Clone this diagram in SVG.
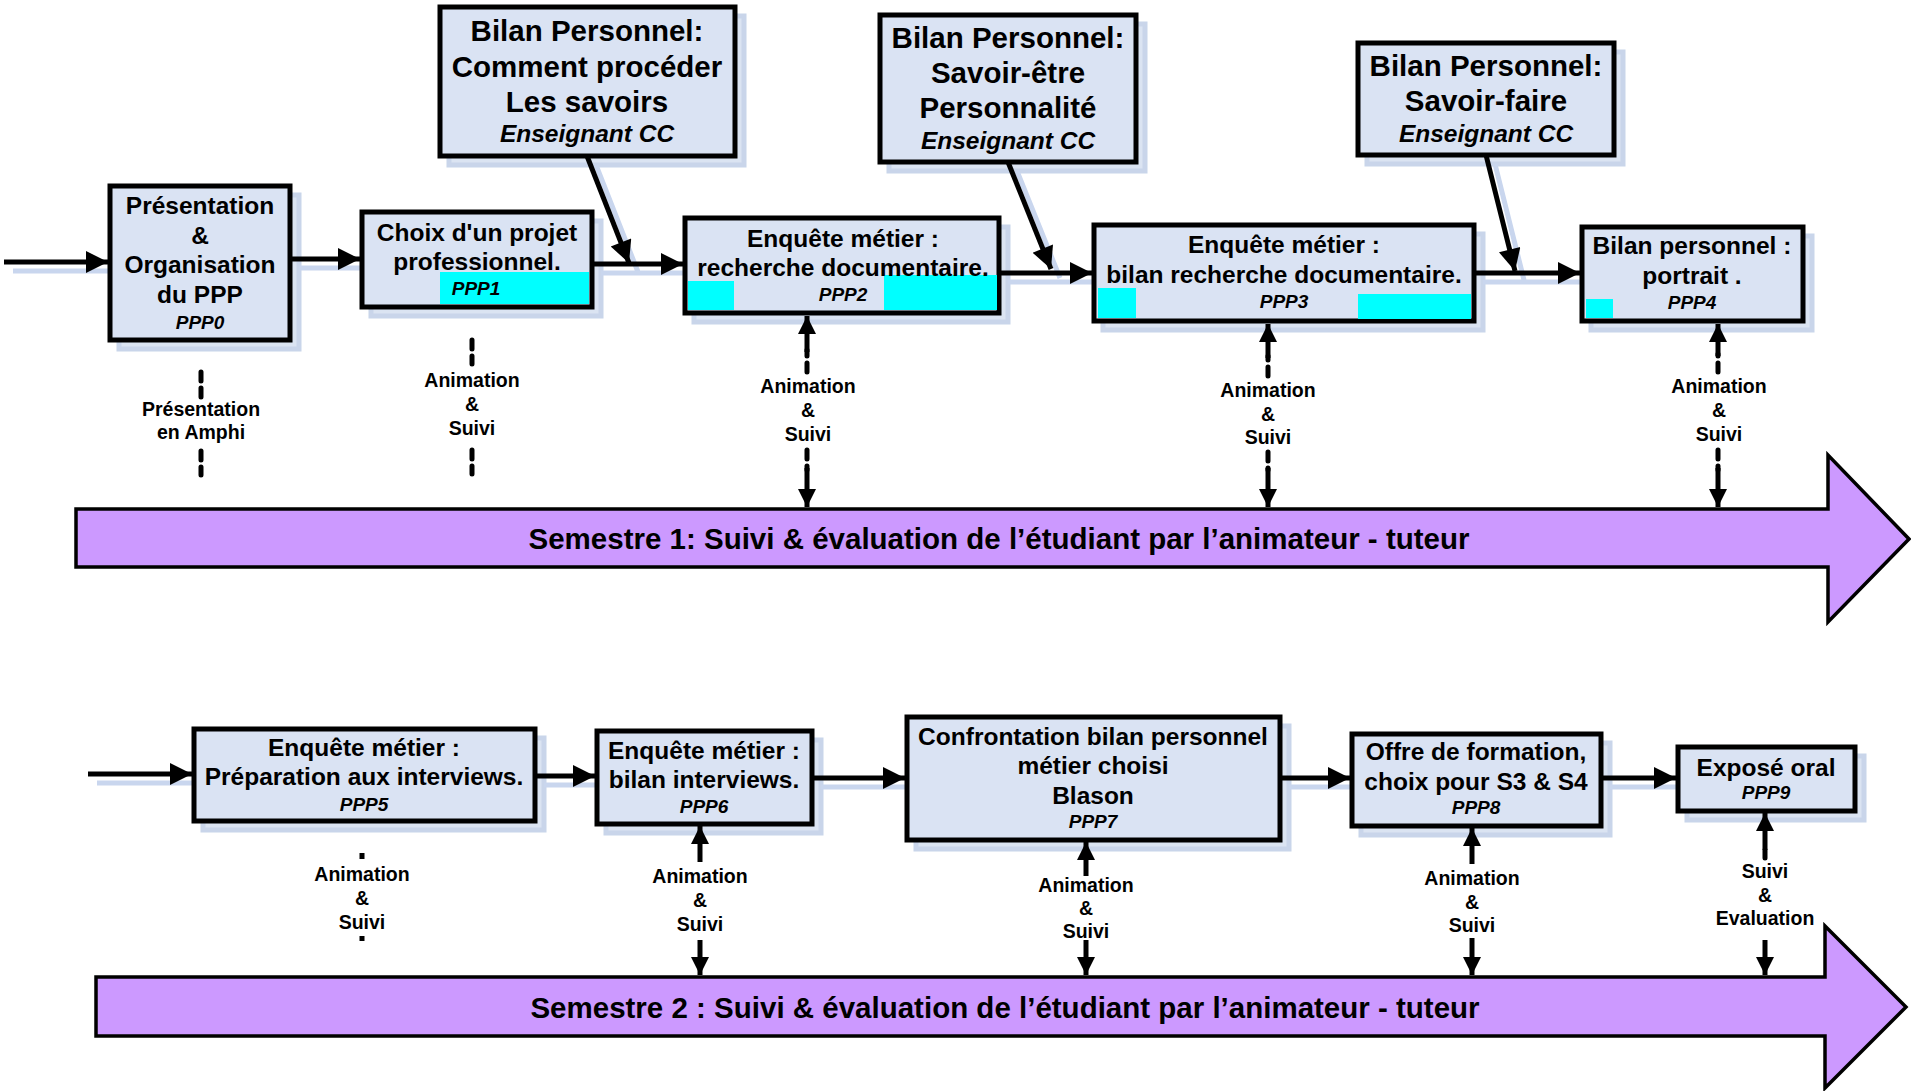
<svg xmlns="http://www.w3.org/2000/svg" width="1911" height="1091" viewBox="0 0 1911 1091">
<defs>
<style>
.box{fill:#dae3f3;stroke:#000;stroke-width:5}
.sh{fill:#d3def0;stroke:#bccbe6;stroke-width:5;opacity:.8}
.shl{stroke:#c9d6ee;stroke-width:5;fill:none}
.t{font-family:"Liberation Sans",Arial,sans-serif;font-weight:bold;fill:#000;text-anchor:middle;dominant-baseline:central}
.b24{font-size:24.5px}
.b29{font-size:29.5px}
.i17{font-size:19px;font-style:italic}
.i23{font-size:24.5px;font-style:italic}
.lab{font-size:19.5px}
.sem{font-size:29.5px}
.c{stroke:#000;stroke-width:5;fill:none}
.d{stroke:#000;stroke-width:5;fill:none;stroke-dasharray:9 7;stroke-linecap:round}
.cy{fill:#00ffff}
.purple{fill:#cc99ff;stroke:#000;stroke-width:3.5}
</style>
<marker id="ah" viewBox="0 0 10 10" refX="10" refY="5" markerUnits="userSpaceOnUse" markerWidth="22" markerHeight="24" orient="auto"><path d="M0,0 L10,5 L0,10 Z" fill="#000"/></marker>
<marker id="av" viewBox="0 0 10 10" refX="10" refY="5" markerUnits="userSpaceOnUse" markerWidth="34" markerHeight="18" orient="auto"><path d="M0,0 L10,5 L0,10 Z" fill="#000"/></marker>
<marker id="ad" viewBox="0 0 10 10" refX="10" refY="5" markerUnits="userSpaceOnUse" markerWidth="26" markerHeight="22" orient="auto"><path d="M0,0 L10,5 L0,10 Z" fill="#000"/></marker>
</defs>
<rect width="1911" height="1091" fill="#fff"/>

<g id="shadows" transform="translate(9,9)">
<rect class="sh" x="110" y="186" width="180" height="154"/>
<rect class="sh" x="362" y="212" width="230" height="95"/>
<rect class="sh" x="440" y="7" width="295" height="149"/>
<rect class="sh" x="685" y="218" width="314" height="95"/>
<rect class="sh" x="880" y="15" width="256" height="147"/>
<rect class="sh" x="1094" y="225" width="380" height="96"/>
<rect class="sh" x="1358" y="43" width="256" height="112"/>
<rect class="sh" x="1582" y="227" width="221" height="94"/>
<rect class="sh" x="194" y="729" width="341" height="92"/>
<rect class="sh" x="597" y="731" width="215" height="93"/>
<rect class="sh" x="907" y="717" width="373" height="123"/>
<rect class="sh" x="1352" y="734" width="249" height="92"/>
<rect class="sh" x="1678" y="747" width="177" height="64"/>
<path class="shl" d="M4,262 H110 M290,259 H362 M592,264 H685 M999,273 H1094 M1474,273 H1582 M587,156 L629,263 M1008,162 L1051,269 M1486,155 L1515,271 M88,774 H194 M535,776 H597 M812,778 H907 M1280,778 H1352 M1601,778 H1678"/>
</g>

<g id="semestre1">
<path class="purple" d="M76,509 H1828 V455 L1909,539 L1828,622 V567 H76 Z"/>
<text class="t sem" x="999" y="538">Semestre 1: Suivi &amp; évaluation de l’étudiant par l’animateur - tuteur</text>
</g>
<g id="semestre2">
<path class="purple" d="M96,977 H1825 V926 L1906,1007 L1825,1088 V1036 H96 Z"/>
<text class="t sem" x="1005" y="1007">Semestre 2 : Suivi &amp; évaluation de l’étudiant par l’animateur - tuteur</text>
</g>

<g id="connectors">
<path class="c" d="M4,262 H108" marker-end="url(#ah)"/>
<path class="c" d="M290,259 H360" marker-end="url(#ah)"/>
<path class="c" d="M592,264 H683" marker-end="url(#ah)"/>
<path class="c" d="M999,273 H1092" marker-end="url(#ah)"/>
<path class="c" d="M1474,273 H1580" marker-end="url(#ah)"/>
<path class="c" d="M587,156 L629,263" marker-end="url(#ad)"/>
<path class="c" d="M1008,162 L1051,269" marker-end="url(#ad)"/>
<path class="c" d="M1486,155 L1515,271" marker-end="url(#ad)"/>
<path class="c" d="M88,774 H192" marker-end="url(#ah)"/>
<path class="c" d="M535,776 H595" marker-end="url(#ah)"/>
<path class="c" d="M812,778 H905" marker-end="url(#ah)"/>
<path class="c" d="M1280,778 H1350" marker-end="url(#ah)"/>
<path class="c" d="M1601,778 H1676" marker-end="url(#ah)"/>

<path class="d" d="M201,372 V397 M201,451 V475"/>
<path class="d" d="M472,340 V364 M472,450 V474"/>
<path class="d" d="M807,372 V350"/><path class="c" d="M807,352 V316" marker-end="url(#av)"/>
<path class="d" d="M807,450 V470"/><path class="c" d="M807,468 V507" marker-end="url(#av)"/>
<path class="d" d="M1268,376 V356"/><path class="c" d="M1268,358 V324" marker-end="url(#av)"/>
<path class="d" d="M1268,452 V470"/><path class="c" d="M1268,468 V507" marker-end="url(#av)"/>
<path class="d" d="M1718,372 V354"/><path class="c" d="M1718,356 V324" marker-end="url(#av)"/>
<path class="d" d="M1718,450 V470"/><path class="c" d="M1718,468 V507" marker-end="url(#av)"/>

<path class="c" d="M362,853 V859 M362,936 V941"/>
<path class="c" d="M700,862 V826" marker-end="url(#av)"/>
<path class="c" d="M700,940 V975" marker-end="url(#av)"/>
<path class="c" d="M1086,876 V842" marker-end="url(#av)"/>
<path class="c" d="M1086,940 V975" marker-end="url(#av)"/>
<path class="c" d="M1472,864 V828" marker-end="url(#av)"/>
<path class="c" d="M1472,938 V975" marker-end="url(#av)"/>
<path class="d" d="M1765,858 V850"/><path class="c" d="M1765,850 V813" marker-end="url(#av)"/>
<path class="c" d="M1765,940 V975" marker-end="url(#av)"/>
</g>

<g id="labels">
<text class="t lab" x="201" y="409">Présentation</text>
<text class="t lab" x="201" y="432">en Amphi</text>
<text class="t lab" x="472" y="380">Animation</text>
<text class="t lab" x="472" y="404">&amp;</text>
<text class="t lab" x="472" y="428">Suivi</text>
<text class="t lab" x="808" y="386">Animation</text>
<text class="t lab" x="808" y="410">&amp;</text>
<text class="t lab" x="808" y="434">Suivi</text>
<text class="t lab" x="1268" y="390">Animation</text>
<text class="t lab" x="1268" y="414">&amp;</text>
<text class="t lab" x="1268" y="437">Suivi</text>
<text class="t lab" x="1719" y="386">Animation</text>
<text class="t lab" x="1719" y="410">&amp;</text>
<text class="t lab" x="1719" y="434">Suivi</text>
<text class="t lab" x="362" y="874">Animation</text>
<text class="t lab" x="362" y="898">&amp;</text>
<text class="t lab" x="362" y="922">Suivi</text>
<text class="t lab" x="700" y="876">Animation</text>
<text class="t lab" x="700" y="900">&amp;</text>
<text class="t lab" x="700" y="924">Suivi</text>
<text class="t lab" x="1086" y="885">Animation</text>
<text class="t lab" x="1086" y="908">&amp;</text>
<text class="t lab" x="1086" y="931">Suivi</text>
<text class="t lab" x="1472" y="878">Animation</text>
<text class="t lab" x="1472" y="902">&amp;</text>
<text class="t lab" x="1472" y="925">Suivi</text>
<text class="t lab" x="1765" y="871">Suivi</text>
<text class="t lab" x="1765" y="895">&amp;</text>
<text class="t lab" x="1765" y="918">Evaluation</text>
</g>

<g id="ppp0">
<rect class="box" x="110" y="186" width="180" height="154"/>
<text class="t b24" x="200" y="205">Présentation</text>
<text class="t b24" x="200" y="235">&amp;</text>
<text class="t b24" x="200" y="264">Organisation</text>
<text class="t b24" x="200" y="294">du PPP</text>
<text class="t i17" x="200" y="322">PPP0</text>
</g>
<g id="ppp1">
<rect class="box" x="362" y="212" width="230" height="95"/>
<rect class="cy" x="440" y="272" width="149" height="32"/>
<text class="t b24" x="477" y="232">Choix d'un projet</text>
<text class="t b24" x="477" y="261">professionnel.</text>
<text class="t i17" x="476" y="288">PPP1</text>
</g>
<g id="bilan1">
<rect class="box" x="440" y="7" width="295" height="149"/>
<text class="t b29" x="587" y="30">Bilan Personnel:</text>
<text class="t b29" x="587" y="66">Comment procéder</text>
<text class="t b29" x="587" y="101">Les savoirs</text>
<text class="t i23" x="587" y="133">Enseignant CC</text>
</g>
<g id="ppp2">
<rect class="box" x="685" y="218" width="314" height="95"/>
<rect class="cy" x="688" y="281" width="46" height="29"/>
<rect class="cy" x="884" y="275" width="113" height="35"/>
<text class="t b24" x="843" y="238">Enquête métier :</text>
<text class="t b24" x="843" y="267">recherche documentaire.</text>
<text class="t i17" x="843" y="294">PPP2</text>
</g>
<g id="bilan2">
<rect class="box" x="880" y="15" width="256" height="147"/>
<text class="t b29" x="1008" y="37">Bilan Personnel:</text>
<text class="t b29" x="1008" y="72">Savoir-être</text>
<text class="t b29" x="1008" y="107">Personnalité</text>
<text class="t i23" x="1008" y="140">Enseignant CC</text>
</g>
<g id="ppp3">
<rect class="box" x="1094" y="225" width="380" height="96"/>
<rect class="cy" x="1098" y="288" width="38" height="30"/>
<rect class="cy" x="1358" y="294" width="113" height="25"/>
<text class="t b24" x="1284" y="244">Enquête métier :</text>
<text class="t b24" x="1284" y="274">bilan recherche documentaire.</text>
<text class="t i17" x="1284" y="301">PPP3</text>
</g>
<g id="bilan3">
<rect class="box" x="1358" y="43" width="256" height="112"/>
<text class="t b29" x="1486" y="65">Bilan Personnel:</text>
<text class="t b29" x="1486" y="100">Savoir-faire</text>
<text class="t i23" x="1486" y="133">Enseignant CC</text>
</g>
<g id="ppp4">
<rect class="box" x="1582" y="227" width="221" height="94"/>
<rect class="cy" x="1586" y="299" width="27" height="19"/>
<text class="t b24" x="1692" y="245">Bilan personnel :</text>
<text class="t b24" x="1692" y="275">portrait .</text>
<text class="t i17" x="1692" y="302">PPP4</text>
</g>
<g id="ppp5">
<rect class="box" x="194" y="729" width="341" height="92"/>
<text class="t b24" x="364" y="747">Enquête métier :</text>
<text class="t b24" x="364" y="776">Préparation aux interviews.</text>
<text class="t i17" x="364" y="804">PPP5</text>
</g>
<g id="ppp6">
<rect class="box" x="597" y="731" width="215" height="93"/>
<text class="t b24" x="704" y="750">Enquête métier :</text>
<text class="t b24" x="704" y="779">bilan interviews.</text>
<text class="t i17" x="704" y="806">PPP6</text>
</g>
<g id="ppp7">
<rect class="box" x="907" y="717" width="373" height="123"/>
<text class="t b24" x="1093" y="736">Confrontation bilan personnel</text>
<text class="t b24" x="1093" y="765">métier choisi</text>
<text class="t b24" x="1093" y="795">Blason</text>
<text class="t i17" x="1093" y="821">PPP7</text>
</g>
<g id="ppp8">
<rect class="box" x="1352" y="734" width="249" height="92"/>
<text class="t b24" x="1476" y="751">Offre de formation,</text>
<text class="t b24" x="1476" y="781">choix pour S3 &amp; S4</text>
<text class="t i17" x="1476" y="807">PPP8</text>
</g>
<g id="ppp9">
<rect class="box" x="1678" y="747" width="177" height="64"/>
<text class="t b24" x="1766" y="767">Exposé oral</text>
<text class="t i17" x="1766" y="792">PPP9</text>
</g>
</svg>
